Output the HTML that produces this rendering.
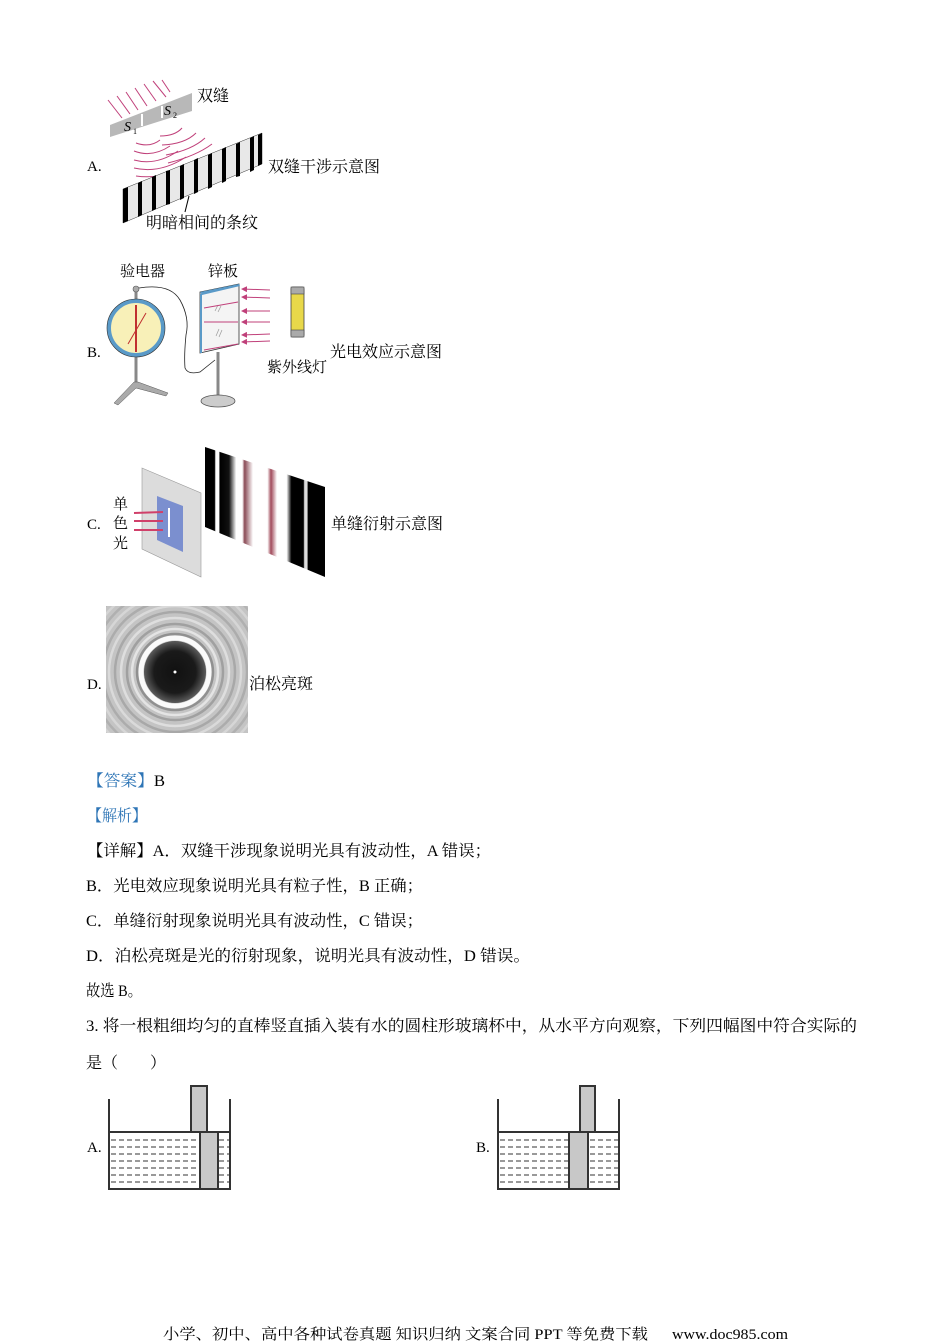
<!DOCTYPE html>
<html><head><meta charset="utf-8"><style>
html,body{margin:0;padding:0;background:#fff;}
svg{display:block;}
text{font-family:"Liberation Serif","Noto Serif CJK SC","Noto Sans CJK SC",serif;}
</style></head><body>
<svg width="950" height="1344" viewBox="0 0 950 1344" xmlns="http://www.w3.org/2000/svg">
<defs>
<linearGradient id="fr" x1="205" y1="0" x2="325" y2="0" gradientUnits="userSpaceOnUse">
<stop offset="0" stop-color="#000"/><stop offset="0.08" stop-color="#000"/>
<stop offset="0.09" stop-color="#fff"/><stop offset="0.115" stop-color="#fff"/>
<stop offset="0.125" stop-color="#000"/><stop offset="0.2" stop-color="#111"/>
<stop offset="0.26" stop-color="#fff"/><stop offset="0.31" stop-color="#fff"/>
<stop offset="0.33" stop-color="#8a4a55"/><stop offset="0.4" stop-color="#fff"/>
<stop offset="0.52" stop-color="#fff"/><stop offset="0.55" stop-color="#a04a5a"/>
<stop offset="0.6" stop-color="#fff"/><stop offset="0.68" stop-color="#fff"/>
<stop offset="0.72" stop-color="#000"/><stop offset="0.82" stop-color="#000"/>
<stop offset="0.83" stop-color="#ddd"/><stop offset="0.85" stop-color="#ddd"/>
<stop offset="0.86" stop-color="#000"/><stop offset="1" stop-color="#000"/>
</linearGradient>
<radialGradient id="dk" cx="175" cy="672" r="30" gradientUnits="userSpaceOnUse">
<stop offset="0" stop-color="#111"/><stop offset="0.7" stop-color="#1a1a1a"/><stop offset="1" stop-color="#555"/>
</radialGradient>
<clipPath id="pc"><rect x="106" y="606" width="142" height="127"/></clipPath>
<marker id="ar" markerWidth="6" markerHeight="6" refX="5" refY="3" orient="auto" markerUnits="userSpaceOnUse"><path d="M0 0 L6 3 L0 6 z" fill="#c0407a"/></marker>
</defs>

<!-- Figure A -->
<text x="87" y="171" font-size="15">A.</text>
<g stroke="#c0407a" stroke-width="1" fill="none">
<line x1="108" y1="100" x2="122" y2="118"/><line x1="117" y1="96" x2="130" y2="114"/><line x1="126" y1="92" x2="138" y2="110"/>
<line x1="135" y1="88" x2="147" y2="106"/><line x1="144" y1="84" x2="156" y2="101"/><line x1="153" y1="81" x2="166" y2="97"/><line x1="162" y1="80" x2="170" y2="92"/>
<path d="M136 143 Q150 148 160 140"/><path d="M134 151 Q152 158 170 146"/><path d="M134 160 Q156 166 178 151"/><path d="M134 168 Q160 174 186 157"/><path d="M136 176 Q164 180 193 163"/>
<path d="M160 136 Q175 136 182 128"/><path d="M162 145 Q185 144 196 133"/><path d="M166 155 Q192 150 205 138"/><path d="M168 163 Q196 156 212 144"/>
</g>
<polygon points="110,125 192,93 192,111 110,137" fill="#b8b8b8"/>
<line x1="142" y1="114" x2="142" y2="126" stroke="#fff" stroke-width="2"/>
<line x1="162" y1="106" x2="162" y2="118" stroke="#fff" stroke-width="2"/>
<text x="124" y="131" font-size="14" font-style="italic">S</text><text x="133" y="134" font-size="8">1</text>
<text x="164" y="115" font-size="14" font-style="italic">S</text><text x="173" y="118" font-size="8">2</text>
<text x="197" y="101" font-size="16">双缝</text>
<polygon points="123,189 262,133 262,164 123,223" fill="#e8e8e8" stroke="#333" stroke-width="0.5"/>
<g fill="#000">
<polygon points="123,189 128,187 128,221 123,223"/>
<polygon points="138,183 142,181 142,215 138,217"/>
<polygon points="152,177 156,175 156,209 152,211"/>
<polygon points="166,171 170,170 170,204 166,205"/>
<polygon points="180,166 184,164 184,198 180,200"/>
<polygon points="194,160 198,158 198,192 194,194"/>
<polygon points="208,155 212,153 212,187 208,189"/>
<polygon points="222,149 226,147 226,181 222,183"/>
<polygon points="236,144 240,142 240,176 236,177"/>
<polygon points="250,138 254,136 254,170 250,172"/>
<polygon points="258,135 262,133 262,164 258,166"/>
</g>
<line x1="189" y1="196" x2="185" y2="212" stroke="#000" stroke-width="1"/>
<text x="146" y="228" font-size="16">明暗相间的条纹</text>
<text x="268" y="172" font-size="16">双缝干涉示意图</text>

<!-- Figure B -->
<text x="87" y="357" font-size="15">B.</text>
<text x="120" y="276" font-size="15">验电器</text>
<text x="208" y="276" font-size="15">锌板</text>
<line x1="136" y1="291" x2="136" y2="385" stroke="#888" stroke-width="3"/>
<circle cx="136" cy="289" r="3" fill="#aaa" stroke="#555" stroke-width="0.6"/>
<path d="M139 288 Q170 283 180 300 Q190 318 186 335 Q184 355 185 368 Q188 375 200 372 L215 360" fill="none" stroke="#222" stroke-width="0.8"/>
<circle cx="136" cy="328" r="27" fill="#f8f0b8" stroke="#5a9ac8" stroke-width="4"/>
<circle cx="136" cy="328" r="29" fill="none" stroke="#333" stroke-width="0.6"/>
<line x1="136" y1="305" x2="136" y2="352" stroke="#c03030" stroke-width="2"/>
<line x1="128" y1="344" x2="146" y2="313" stroke="#c03030" stroke-width="1"/>
<polygon points="134,382 138,382 168,393 166,396 136,388 118,405 114,403" fill="#aaa" stroke="#555" stroke-width="0.5"/>
<polygon points="200,292 239,284 239,344 200,353" fill="#f4f4f4" stroke="#333" stroke-width="0.8"/>
<polygon points="200,292 239,284 240,286 202,295" fill="#5a9ac8"/>
<line x1="201" y1="294" x2="201" y2="353" stroke="#5a9ac8" stroke-width="2"/>
<g stroke="#999" stroke-width="0.7"><line x1="215" y1="311" x2="218" y2="305"/><line x1="218" y1="312" x2="221" y2="306"/><line x1="216" y1="336" x2="219" y2="329"/><line x1="219" y1="337" x2="222" y2="330"/></g>
<line x1="218" y1="352" x2="218" y2="395" stroke="#888" stroke-width="3"/>
<ellipse cx="218" cy="401" rx="17" ry="6" fill="#ccc" stroke="#555" stroke-width="0.8"/>
<g stroke="#c0407a" stroke-width="1" fill="none">
<line x1="270" y1="290" x2="242" y2="289" marker-end="url(#ar)"/><line x1="270" y1="298" x2="242" y2="297" marker-end="url(#ar)"/>
<line x1="270" y1="311" x2="242" y2="311" marker-end="url(#ar)"/>
<line x1="270" y1="322" x2="242" y2="322" marker-end="url(#ar)"/>
<line x1="270" y1="334" x2="242" y2="335" marker-end="url(#ar)"/><line x1="270" y1="341" x2="242" y2="342" marker-end="url(#ar)"/>
<line x1="238" y1="302" x2="204" y2="308"/><line x1="238" y1="322" x2="204" y2="322"/><line x1="238" y1="344" x2="204" y2="350"/>
</g>
<rect x="291" y="287" width="13" height="50" rx="2" fill="#e8d84a" stroke="#444" stroke-width="0.8"/>
<rect x="291" y="287" width="13" height="7" fill="#aaa" stroke="#444" stroke-width="0.6"/>
<rect x="291" y="330" width="13" height="7" fill="#aaa" stroke="#444" stroke-width="0.6"/>
<text x="267" y="372" font-size="15">紫外线灯</text>
<text x="330" y="357" font-size="16">光电效应示意图</text>

<!-- Figure C -->
<text x="87" y="529" font-size="15">C.</text>
<polygon points="142,468 201,493 201,577 142,549" fill="#dcdcdc" stroke="#999" stroke-width="0.6"/>
<polygon points="157,496 183,506 183,552 157,540" fill="#7b8fcf"/>
<line x1="169" y1="508" x2="169" y2="537" stroke="#fff" stroke-width="2"/>
<g stroke="#d0406a" stroke-width="2"><line x1="134" y1="513" x2="163" y2="512"/><line x1="134" y1="521" x2="163" y2="521"/><line x1="134" y1="530" x2="163" y2="530"/></g>
<text x="113" y="509" font-size="15">单</text><text x="113" y="528" font-size="15">色</text><text x="113" y="548" font-size="15">光</text>
<polygon points="205,447 325,487 325,577 205,527" fill="url(#fr)"/>
<text x="331" y="529" font-size="16">单缝衍射示意图</text>

<!-- Figure D -->
<text x="87" y="689" font-size="15">D.</text>
<g clip-path="url(#pc)">
<rect x="106" y="606" width="142" height="127" fill="#c4c4c4"/>
<g fill="none" stroke-width="2.5">
<circle cx="175" cy="672" r="96" stroke="#b4b4b4"/><circle cx="175" cy="672" r="90" stroke="#d4d4d4"/>
<circle cx="175" cy="672" r="84" stroke="#b0b0b0"/><circle cx="175" cy="672" r="78" stroke="#d6d6d6"/>
<circle cx="175" cy="672" r="72" stroke="#acacac"/><circle cx="175" cy="672" r="66" stroke="#dadada"/>
<circle cx="175" cy="672" r="60" stroke="#a8a8a8"/><circle cx="175" cy="672" r="54" stroke="#dedede"/>
<circle cx="175" cy="672" r="48" stroke="#a0a0a0"/><circle cx="175" cy="672" r="43" stroke="#e4e4e4"/>
<circle cx="175" cy="672" r="38" stroke="#909090"/>
</g>
<circle cx="175" cy="672" r="34" fill="none" stroke="#fafafa" stroke-width="5"/>
<circle cx="175" cy="672" r="31" fill="url(#dk)"/>
<circle cx="175" cy="672" r="1.5" fill="#fff"/>
</g>
<text x="249" y="689" font-size="16">泊松亮斑</text>

<!-- Text -->
<g font-size="16">
<text x="87" y="786" textLength="78" lengthAdjust="spacingAndGlyphs"><tspan fill="#2e75b6">【答案】</tspan>B</text>
<text x="87" y="821" textLength="60" lengthAdjust="spacingAndGlyphs" fill="#2e75b6">【解析】</text>
<text x="87" y="856" textLength="404" lengthAdjust="spacingAndGlyphs">【详解】A．双缝干涉现象说明光具有波动性，A 错误；</text>
<text x="86" y="891" textLength="337" lengthAdjust="spacingAndGlyphs">B．光电效应现象说明光具有粒子性，B 正确；</text>
<text x="86" y="926" textLength="337" lengthAdjust="spacingAndGlyphs">C．单缝衍射现象说明光具有波动性，C 错误；</text>
<text x="86" y="961" textLength="444" lengthAdjust="spacingAndGlyphs">D．泊松亮斑是光的衍射现象，说明光具有波动性，D 错误。</text>
<text x="86" y="996" textLength="56" lengthAdjust="spacingAndGlyphs">故选 B。</text>
<text x="86" y="1031" textLength="771" lengthAdjust="spacingAndGlyphs">3. 将一根粗细均匀的直棒竖直插入装有水的圆柱形玻璃杯中，从水平方向观察，下列四幅图中符合实际的</text>
<text x="86" y="1068">是（</text>
<text x="150" y="1068">）</text>
</g>

<!-- Cups -->
<text x="87" y="1152" font-size="15">A.</text>
<g stroke="#333" stroke-width="2" fill="none">
<rect x="191" y="1086" width="16" height="46" fill="#c8c8c8"/>
<path d="M109 1099 V1189 H230 V1099"/>
<line x1="109" y1="1132" x2="230" y2="1132"/>
<rect x="200" y="1132" width="18" height="57" fill="#c8c8c8"/>
</g>
<g stroke="#333" stroke-width="1" stroke-dasharray="5 3">
<path d="M111 1140 H199 M111 1147 H199 M111 1154 H199 M111 1161 H199 M111 1168 H199 M111 1175 H199 M111 1182 H199"/>
<path d="M219 1140 H229 M219 1147 H229 M219 1154 H229 M219 1161 H229 M219 1168 H229 M219 1175 H229 M219 1182 H229"/>
</g>
<text x="476" y="1152" font-size="15">B.</text>
<g stroke="#333" stroke-width="2" fill="none">
<rect x="580" y="1086" width="15" height="46" fill="#c8c8c8"/>
<path d="M498 1099 V1189 H619 V1099"/>
<line x1="498" y1="1132" x2="619" y2="1132"/>
<rect x="569" y="1132" width="19" height="57" fill="#c8c8c8"/>
</g>
<g stroke="#333" stroke-width="1" stroke-dasharray="5 3">
<path d="M500 1140 H568 M500 1147 H568 M500 1154 H568 M500 1161 H568 M500 1168 H568 M500 1175 H568 M500 1182 H568"/>
<path d="M590 1140 H618 M590 1147 H618 M590 1154 H618 M590 1161 H618 M590 1168 H618 M590 1175 H618 M590 1182 H618"/>
</g>

<text x="163" y="1339" font-size="15" textLength="485" lengthAdjust="spacingAndGlyphs">小学、初中、高中各种试卷真题 知识归纳 文案合同 PPT 等免费下载</text>
<text x="672" y="1339" font-size="15" textLength="116" lengthAdjust="spacingAndGlyphs">www.doc985.com</text>
</svg>
</body></html>
